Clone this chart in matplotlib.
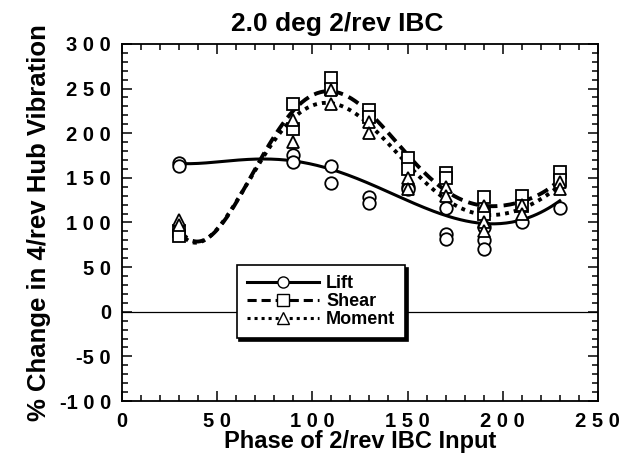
import numpy as np
import matplotlib
matplotlib.use('Agg')
from matplotlib import pyplot as plt
from matplotlib.ticker import MultipleLocator

plt.rcParams['font.family'] = ['Liberation Sans', 'DejaVu Sans']

# measured points
lift_x = [30, 30, 90, 90, 110, 110, 130, 130, 150, 150, 170, 170, 170, 190, 190, 190, 210, 230]
lift_y = [167, 163, 176, 168, 163, 144, 129, 122, 140, 137, 116, 87, 81, 95, 80, 70, 100, 116]
shear_x = [30, 30, 90, 90, 110, 110, 130, 130, 150, 150, 170, 170, 190, 190, 210, 210, 230, 230]
shear_y = [90, 85, 233, 205, 262, 250, 226, 218, 172, 160, 155, 150, 128, 110, 130, 118, 156, 148]
moment_x = [30, 30, 90, 90, 110, 110, 130, 130, 150, 150, 170, 170, 190, 190, 190, 210, 210, 230, 230]
moment_y = [103, 97, 215, 190, 248, 233, 212, 200, 150, 138, 140, 130, 118, 100, 90, 120, 110, 145, 138]

# fitted curves
lift_cx = [30, 50, 70, 90, 110, 130, 150, 170, 190, 210, 230]
lift_cy = [166, 168, 171, 168, 161, 142, 125, 109, 97, 104, 124]
curve_x = [30, 40, 50, 60, 70, 80, 90, 100, 110, 120, 130, 140, 150, 160, 170, 180, 190, 200, 210, 220, 230]
shear_cy = [92, 80, 88, 125, 163, 195, 224, 240, 247, 242, 226, 200, 170, 152, 140, 125, 118, 118, 123, 133, 148]
moment_cy = [90, 79, 88, 125, 163, 193, 213, 228, 232, 228, 215, 190, 160, 140, 128, 115, 110, 110, 114, 126, 142]

xticks = [0, 50, 100, 150, 200, 250]
yticks = [-100, -50, 0, 50, 100, 150, 200, 250, 300]


def smooth(x, y, deg):
    p = np.polyfit(x, y, deg)
    xs = np.linspace(min(x), max(x), 200)
    return xs, np.polyval(p, xs)


def spaced(v):
    s = str(v)
    if s.startswith('-'):
        return '-' + ' '.join(s[1:])
    return ' '.join(s)


fig = plt.figure(figsize=(6.26, 4.62), dpi=100)
ax = fig.add_axes([0.195, 0.132, 0.76, 0.773])

ax.axhline(0, color='black', lw=0.9)

xs, ys = smooth(lift_cx, lift_cy, 5)
ax.plot(xs, ys, '-', color='black', lw=2.2)
xs, ys = smooth(curve_x, shear_cy, 7)
ax.plot(xs, ys, '--', color='black', lw=2.8, dashes=(3, 1.6))
xs, ys = smooth(curve_x, moment_cy, 7)
ax.plot(xs, ys, ':', color='black', lw=2.8, dashes=(1, 1.3))

mk = dict(linestyle='none', markerfacecolor='white', markeredgecolor='black',
          markeredgewidth=1.3, markersize=9)
ax.plot(lift_x, lift_y, marker='o', **mk)
ax.plot(shear_x, shear_y, marker='s', **mk)
ax.plot(moment_x, moment_y, marker='^', **mk)

# legend handles
h1, = ax.plot([], [], '-', color='black', lw=2.2, marker='o', markerfacecolor='white',
              markeredgecolor='black', markersize=8)
h2, = ax.plot([], [], '--', color='black', lw=2.2, dashes=(3, 1.6), marker='s',
              markerfacecolor='white', markeredgecolor='black', markersize=8)
h3, = ax.plot([], [], ':', color='black', lw=2.2, dashes=(1, 1.3), marker='^',
              markerfacecolor='white', markeredgecolor='black', markersize=8)
leg = ax.legend([h1, h2, h3], ['Lift', 'Shear', 'Moment'], loc='upper left',
                bbox_to_anchor=(0.222, 0.405), frameon=True, fancybox=False,
                shadow={'color': 'black', 'alpha': 1},
                prop={'weight': 'bold', 'size': 13}, handlelength=4.0,
                labelspacing=0.05, borderpad=0.55, handletextpad=0.4)
leg.get_frame().set_edgecolor('black')
leg.get_frame().set_linewidth(1.2)

ax.set_xlim(0, 250)
ax.set_ylim(-100, 300)
ax.set_xticks(xticks)
ax.set_yticks(yticks)
ax.set_xticklabels([spaced(v) for v in xticks], fontweight='bold', fontsize=14.5)
ax.set_yticklabels([spaced(v) for v in yticks], fontweight='bold', fontsize=14.5)
ax.xaxis.set_minor_locator(MultipleLocator(10))
ax.yaxis.set_minor_locator(MultipleLocator(10))
ax.tick_params(which='both', direction='in', top=True, right=True, width=1.1)
ax.tick_params(which='major', length=7, pad=8)
ax.tick_params(which='minor', length=4)
for s in ax.spines.values():
    s.set_linewidth(1.3)

ax.set_title('2.0 deg 2/rev IBC', fontsize=19, fontweight='bold', x=0.452, pad=9)
ax.set_xlabel('Phase of 2/rev IBC Input', fontsize=17, fontweight='bold', labelpad=-1)
ax.set_ylabel('% Change in 4/rev Hub Vibration', fontsize=18.5, fontweight='bold', labelpad=6)

fig.savefig('out.png', dpi=100)
